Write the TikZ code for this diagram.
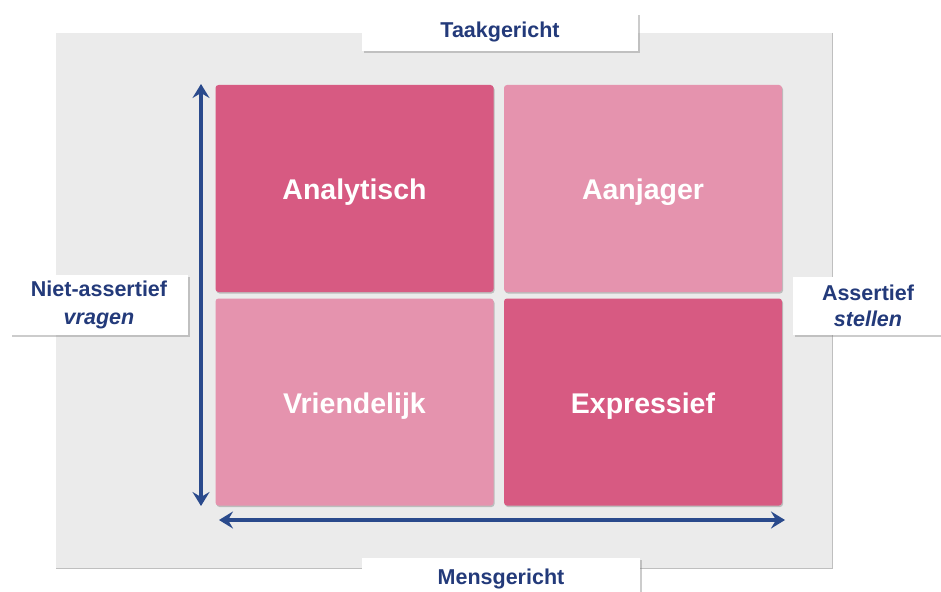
\documentclass[tikz,border=0pt]{standalone}
\usepackage{fontspec}
\setmainfont{Liberation Sans}
\usetikzlibrary{arrows.meta,shadows}
\definecolor{bggray}{HTML}{EBEBEB}
\definecolor{darkpink}{HTML}{D75A82}
\definecolor{lightpink}{HTML}{E593AE}
\definecolor{navy}{HTML}{233A7A}
\definecolor{arrowblue}{HTML}{2A4A8C}
\tikzset{
  quad/.style={rounded corners=3pt, draw=none, minimum width=278pt, minimum height=207pt,
    text=white, font=\fontsize{28.5}{32}\selectfont\bfseries, text height=22pt, text depth=0pt,
    drop shadow={shadow xshift=1pt, shadow yshift=-1.5pt, opacity=0.35, fill=black!60}},
  dq/.style={quad, fill=darkpink},
  lq/.style={quad, fill=lightpink},
  lbl/.style={fill=white, draw=none, text=navy, font=\fontsize{21.5}{24}\selectfont\bfseries, align=center,
    drop shadow={shadow xshift=1.5pt, shadow yshift=-2pt, opacity=0.4, fill=black!50}},
  axis/.style={draw=arrowblue, line width=3.4pt, {Stealth[length=14pt,width=17pt,inset=5pt]}-{Stealth[length=14pt,width=17pt,inset=5pt]}}
}
\begin{document}
\begin{tikzpicture}[x=1pt,y=-1pt]
\useasboundingbox (0,0) rectangle (941,591);
\fill[white] (0,0) rectangle (941,591);
\fill[bggray] (56,33) rectangle (832,568);
\draw[black!25, line width=1pt] (832,33) -- (832,568) -- (56,568);
% quadrants
\node[dq] (ana) at (354.5,188.5) {Analytisch};
\node[lq] (aan) at (643,188.5) {Aanjager};
\node[lq] (vri) at (354.5,402) {Vriendelijk};
\node[dq] (exp) at (643,402) {Expressief};
% labels
\node[lbl, minimum width=276pt, minimum height=38pt] (taak) at (500,32) {Taakgericht};
\node[lbl, minimum width=278pt, minimum height=42pt] (mens) at (501,579) {Mensgericht};
\node[lbl, minimum width=178pt, minimum height=60pt, inner sep=2pt] (niet) at (99,305) {\raisebox{0pt}[16pt][0pt]{}Niet-assertief\\[4pt]\itshape vragen\raisebox{0pt}[0pt][0pt]{}};
\node[lbl, minimum width=150pt, minimum height=58pt, inner sep=2pt] (ass) at (868,306) {Assertief\\[2pt]\itshape stellen};
% axes
\coordinate (vtop) at (201,84);
\coordinate (vbot) at (201,506);
\coordinate (hl) at (219,520);
\coordinate (hr) at (785,520);
\draw[axis] (vbot) -- (vtop);
\draw[axis] (hl) -- (hr);
\end{tikzpicture}
\end{document}
